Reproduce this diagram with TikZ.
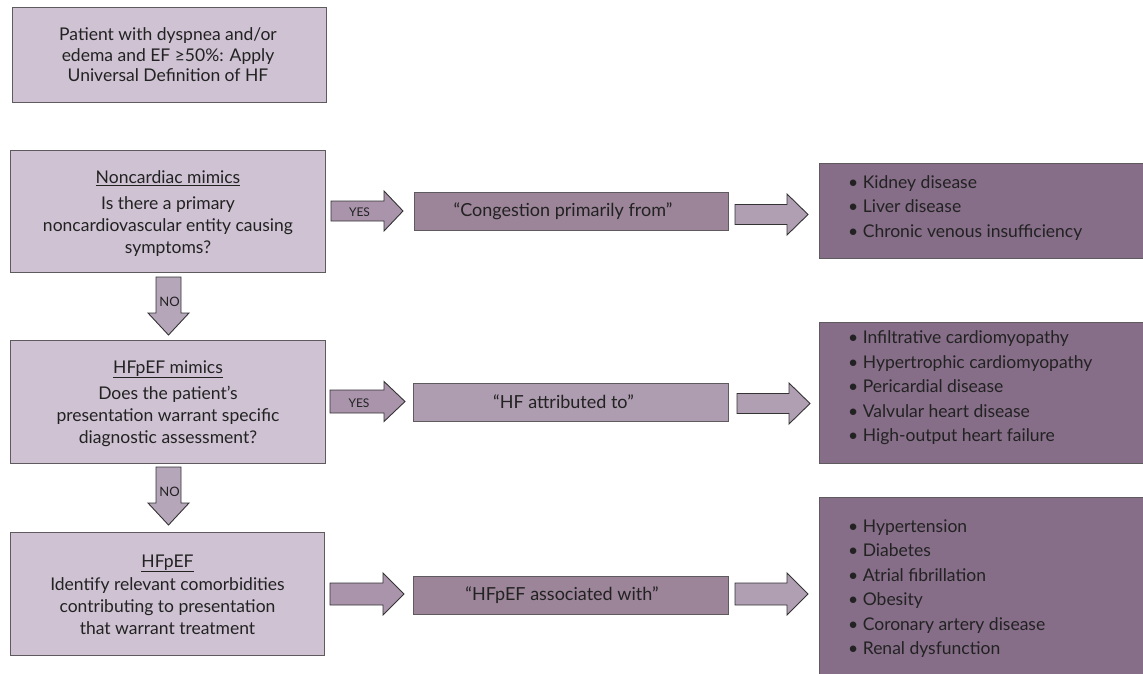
\documentclass[tikz,border=0pt]{standalone}
\usepackage{fontspec}
\setmainfont{Lato}
\definecolor{lightbox}{HTML}{CEC2D3}
\definecolor{noarrow}{HTML}{B6A6BA}
\definecolor{yesarrow}{HTML}{A994AB}
\definecolor{midbox}{HTML}{9C8499}
\definecolor{midboxl}{HTML}{AE9CB0}
\definecolor{rarrow}{HTML}{B09EB3}
\definecolor{darkbox}{HTML}{866D88}
\definecolor{boxline}{HTML}{5E5A5E}
\definecolor{txt}{HTML}{222222}
\newcommand{\hblk}[7]{%
  \draw[blk, fill=#7] (#1,#3-#4) -- (#2-#6,#3-#4) -- (#2-#6,#3-#5) -- (#2,#3)
    -- (#2-#6,#3+#5) -- (#2-#6,#3+#4) -- (#1,#3+#4) -- cycle;}
\newcommand{\vblk}[7]{%
  \draw[blk, fill=#7] (#1-#4,#2) -- (#1+#4,#2) -- (#1+#4,#3-#6) -- (#1+#5,#3-#6)
    -- (#1,#3) -- (#1-#5,#3-#6) -- (#1-#4,#3-#6) -- cycle;}
\begin{document}
\begin{tikzpicture}[x=1pt,y=-1pt,
  box/.style={draw=boxline, line width=0.9pt, fill=lightbox, inner sep=0pt},
  boxtext/.style={inner sep=0pt, text=txt, align=center, font=\fontsize{17.5}{22}\selectfont},
  midnode/.style={draw=boxline, line width=0.9pt, inner sep=0pt, minimum width=314pt, minimum height=38pt},
  rbox/.style={draw=boxline, line width=0.9pt, fill=darkbox, inner sep=0pt, minimum width=324pt},
  list/.style={anchor=west, inner sep=0pt, align=left, text=txt, font=\fontsize{17.5}{24.5}\selectfont},
  midtext/.style={inner sep=0pt, text=txt, font=\fontsize{18}{20}\selectfont},
  blk/.style={draw=black!80, line width=0.9pt, line join=miter},
  small/.style={inner sep=0pt, text=txt, font=\fontsize{12}{14}\selectfont}]
\useasboundingbox (0,0) rectangle (1143,674);

% left column
\node[box, minimum width=314pt, minimum height=95pt] (start) at (169,54.5) {};
\node[boxtext, font=\fontsize{17.5}{20.5}\selectfont] (startt) at (168,55)
  {Patient with dyspnea and/or\\edema and EF ≥50\%: Apply\\Universal Definition of HF};
\node[box, minimum width=315pt, minimum height=122pt] (q1) at (167.5,211) {};
\node[boxtext] (q1t) at (168,213.5)
  {\underline{Noncardiac mimics}\\[4pt]Is there a primary\\noncardiovascular entity causing\\symptoms?};
\node[box, minimum width=315pt, minimum height=123pt] (q2) at (167.5,401.5) {};
\node[boxtext] (q2t) at (168,403.5)
  {\underline{HFpEF mimics}\\[4pt]Does the patient’s\\presentation warrant specific\\diagnostic assessment?};
\node[box, minimum width=314pt, minimum height=123pt] (q3) at (167,593.5) {};
\node[boxtext] (q3t) at (167.5,594.5)
  {\underline{HFpEF}\\[1pt]Identify relevant comorbidities\\contributing to presentation\\that warrant treatment};

% middle boxes
\node[midnode, fill=midbox] (m1) at (571.5,211) {};
\node[midtext] (m1t) at (563,211) {“Congestion primarily from”};
\node[midnode, minimum width=315pt, fill=midboxl] (m2) at (570.5,402) {};
\node[midtext] (m2t) at (563.5,402) {“HF attributed to”};
\node[midnode, minimum width=315pt, fill=midbox] (m3) at (570.5,595) {};
\node[midtext] (m3t) at (562,595) {“HFpEF associated with”};

% right boxes
\node[rbox, minimum height=95pt] (r1) at (981,210.5) {};
\node[list] (r1t) at (848,208) {• Kidney disease\\• Liver disease\\• Chronic venous insufficiency};
\node[rbox, minimum height=141pt] (r2) at (981,392.5) {};
\node[list] (r2t) at (848,388) {• Infiltrative cardiomyopathy\\• Hypertrophic cardiomyopathy\\• Pericardial disease\\• Valvular heart disease\\• High-output heart failure};
\node[rbox, minimum height=178pt] (r3) at (981,586) {};
\node[list] (r3t) at (848,588.5) {• Hypertension\\• Diabetes\\• Atrial fibrillation\\• Obesity\\• Coronary artery disease\\• Renal dysfunction};

% block arrows
\vblk{168.5}{277}{335}{12.5}{20.5}{22}{noarrow}
\node[small, font=\fontsize{13}{14}\selectfont] (no1) at (169.5,302) {NO};
\vblk{168.5}{467}{525}{12.5}{20.5}{22}{noarrow}
\node[small, font=\fontsize{13}{14}\selectfont] (no2) at (169.5,492) {NO};

\hblk{331}{403}{211}{10}{20}{19}{yesarrow}
\node[small] (yes1) at (359.5,212) {YES};
\hblk{330}{405}{401.5}{11.5}{20}{21}{yesarrow}
\node[small] (yes2) at (359,403) {YES};
\hblk{330}{404}{594}{11}{21}{21}{yesarrow}

\hblk{735}{808}{214.5}{10}{20.5}{21}{rarrow}
\hblk{737}{810}{403.5}{10}{20.5}{21}{rarrow}
\hblk{735}{808}{594}{11}{21}{21}{rarrow}
\end{tikzpicture}
\end{document}
